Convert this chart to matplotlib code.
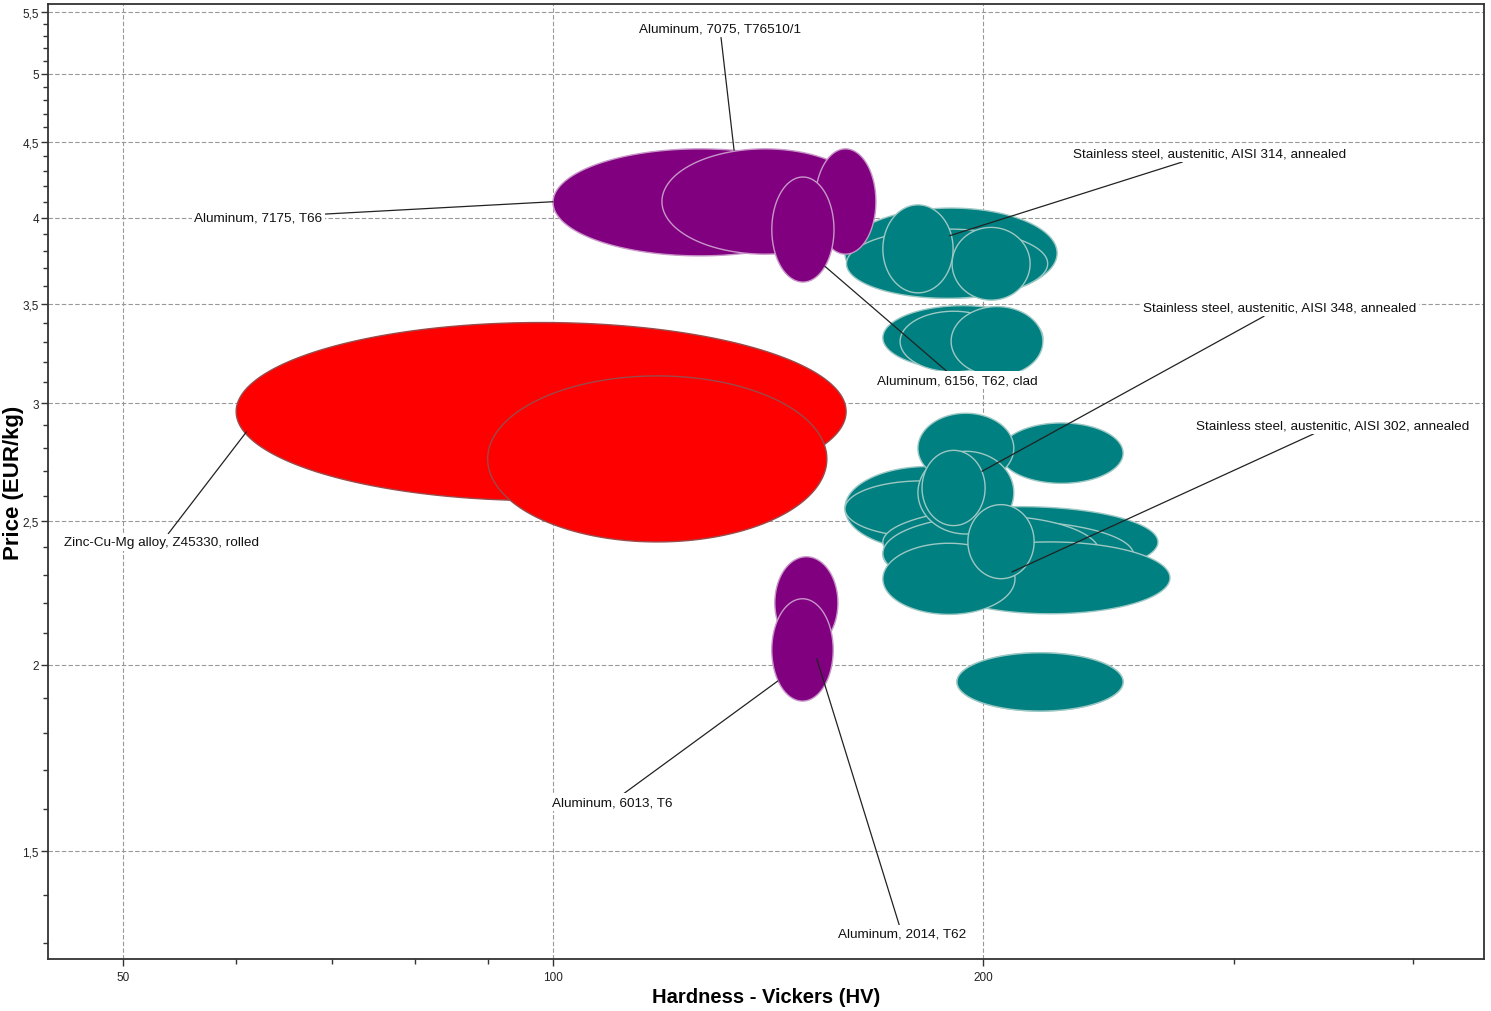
import numpy as np
import matplotlib
matplotlib.use("Agg")
import matplotlib.pyplot as plt
from matplotlib.ticker import FixedLocator, FixedFormatter, NullFormatter

# ---------------- data ----------------
# families of materials and their colours
family_names = ["Stainless steel", "Aluminum", "Zinc alloy"]
family_fill = ["#008080", "#800080", "#ff0000"]
family_edge = ["#9cc8c4", "#c896c8", "#9a4a4a"]

# one bubble per material (family index, hardness range HV, price range EUR/kg)
bubble_family = [0, 0, 0, 0,
                 0, 0, 0,
                 0, 0, 0, 0, 0, 0, 0, 0, 0, 0, 0, 0, 0, 0,
                 2, 2,
                 1, 1, 1, 1, 1, 1]
hv_min = [160.1, 160.5, 190.3, 170.2,
          170.2, 175.0, 190.0,
          205.6, 160.1, 160.1, 170.2, 170.2, 170.2, 183.6, 170.2, 180.1, 180.1, 195.2, 181.3, 191.8,
          191.8,
          60.0, 90.0,
          100.0, 119.2, 152.6, 142.3, 143.0, 142.3]
hv_max = [225.4, 222.0, 215.8, 190.6,
          220.3, 208.0, 220.3,
          250.7, 209.0, 205.0, 265.2, 255.0, 241.5, 270.4, 210.6, 210.2, 210.2, 217.2, 200.7, 250.7,
          250.7,
          160.4, 155.5,
          160.6, 166.2, 168.3, 157.3, 158.3, 157.1]
price_min = [3.53, 3.53, 3.52, 3.56,
             3.16, 3.15, 3.13,
             2.65, 2.39, 2.44, 2.29, 2.25, 2.244, 2.165, 2.163, 2.65, 2.45, 2.286, 2.482, 1.862,
             1.862,
             2.58, 2.42,
             3.77, 3.78, 3.78, 3.62, 2.05, 1.891]
price_max = [4.06, 3.93, 3.94, 4.08,
             3.49, 3.46, 3.485,
             2.91, 2.72, 2.66, 2.556, 2.50, 2.52, 2.42, 2.415, 2.954, 2.785, 2.564, 2.789, 2.038,
             2.038,
             3.40, 3.13,
             4.45, 4.45, 4.45, 4.26, 2.365, 2.216]

# labels: text, label position, pointed position (HV, EUR/kg)
label_text = ["Aluminum, 7075, T76510/1",
              "Aluminum, 7175, T66",
              "Stainless steel, austenitic, AISI 314, annealed",
              "Stainless steel, austenitic, AISI 348, annealed",
              "Aluminum, 6156, T62, clad",
              "Stainless steel, austenitic, AISI 302, annealed",
              "Zinc-Cu-Mg alloy, Z45330, rolled",
              "Aluminum, 6013, T6",
              "Aluminum, 2014, T62"]
label_hv = [130.9, 62.2, 288.4, 322.8, 191.8, 351.5, 53.2, 110.0, 175.5]
label_price = [5.36, 4.00, 4.42, 3.48, 3.11, 2.90, 2.418, 1.617, 1.319]
target_hv = [133.9, 100.0, 189.6, 199.7, 155.0, 209.6, 61.0, 143.7, 153.0]
target_price = [4.44, 4.10, 3.89, 2.70, 3.71, 2.31, 2.87, 1.951, 2.019]

x_major = [50, 100, 200]
x_major_labels = ["50", "100", "200"]
x_minor = [60, 70, 80, 90, 300, 400]
y_major = [1.5, 2, 2.5, 3, 3.5, 4, 4.5, 5, 5.5]
y_major_labels = ["1,5", "2", "2,5", "3", "3,5", "4", "4,5", "5", "5,5"]

# ---------------- figure ----------------
plt.rcParams["font.family"] = ["Liberation Sans", "DejaVu Sans"]

W, H = 1491, 1012
L, R, T, B = 48, 1484, 5, 960
fig = plt.figure(figsize=(W / 100, H / 100), dpi=100)
ax = fig.add_axes([L / W, 1 - B / H, (R - L) / W, (B - T) / H])
ax.set_xscale("log")
ax.set_yscale("log")
ax.set_xlim(44.3, 448.6)
ax.set_ylim(1.268, 5.57)

t = np.linspace(0, 2 * np.pi, 300)
order = sorted(range(len(bubble_family)), key=lambda i: [0, 2, 1][bubble_family[i]])
for k, i in enumerate(order):
    f = bubble_family[i]
    lx0, lx1 = np.log(hv_min[i]), np.log(hv_max[i])
    ly0, ly1 = np.log(price_min[i]), np.log(price_max[i])
    xs = np.exp((lx0 + lx1) / 2 + (lx1 - lx0) / 2 * np.cos(t))
    ys = np.exp((ly0 + ly1) / 2 + (ly1 - ly0) / 2 * np.sin(t))
    ax.fill(xs, ys, facecolor=family_fill[f], edgecolor=family_edge[f], lw=1.0,
            zorder=3 + k * 0.01)

for i, txt in enumerate(label_text):
    ax.annotate(txt, xy=(target_hv[i], target_price[i]), xytext=(label_hv[i], label_price[i]),
                ha="center", va="center", fontsize=9.7, color="#111111",
                bbox=dict(boxstyle="square,pad=0.2", fc="white", ec="none"),
                arrowprops=dict(arrowstyle="-", color="#222222", lw=0.9, shrinkA=0, shrinkB=0),
                zorder=10)

ax.xaxis.set_major_locator(FixedLocator(x_major))
ax.xaxis.set_major_formatter(FixedFormatter(x_major_labels))
ax.xaxis.set_minor_locator(FixedLocator(x_minor))
ax.xaxis.set_minor_formatter(NullFormatter())
ax.yaxis.set_major_locator(FixedLocator(y_major))
ax.yaxis.set_major_formatter(FixedFormatter(y_major_labels))
ax.yaxis.set_minor_locator(FixedLocator([round(v, 1) for v in np.arange(1.3, 5.55, 0.1)
                                         if round(v * 10) % 5 != 0]))
ax.yaxis.set_minor_formatter(NullFormatter())

ax.tick_params(which="major", length=5, width=1.0, color="#333333", labelsize=8.5,
               labelcolor="#222222", pad=1.5)
ax.tick_params(which="minor", length=3.5, width=1.0, color="#333333")
ax.tick_params(axis="x", which="major", pad=4)

ax.set_axisbelow(True)
ax.grid(which="major", linestyle=(0, (4, 2)), color="#999999", lw=0.8)
for s in ax.spines.values():
    s.set_color("#333333")
    s.set_linewidth(1.3)

ax.set_xlabel("Hardness - Vickers (HV)", fontsize=14.5, fontweight="bold")
ax.set_ylabel("Price (EUR/kg)", fontsize=16, fontweight="bold")
ax.xaxis.set_label_coords(0.5, -(988 - B) / (B - T))
ax.yaxis.set_label_coords(-(L - 24) / (R - L), 0.5)

fig.savefig("out.png", dpi=100, facecolor="white")
